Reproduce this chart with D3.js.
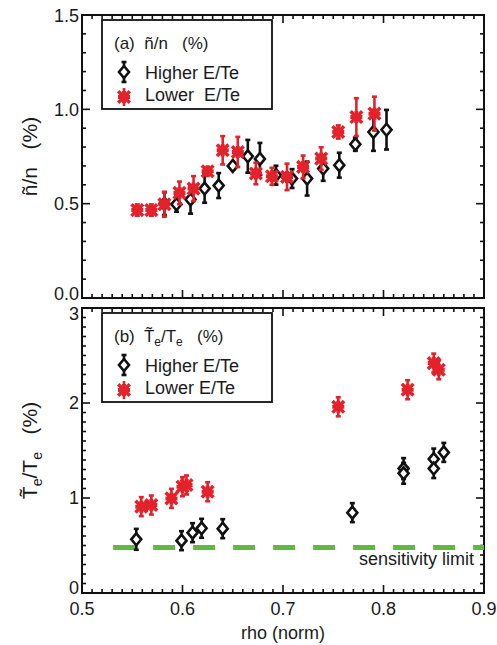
<!DOCTYPE html>
<html>
<head>
<meta charset="utf-8">
<script src="https://cdn.jsdelivr.net/npm/d3@7"></script>
<style>
  body { margin: 0; background: #fff; }
  text { font-family: "Liberation Sans", Arial, sans-serif; fill: #1a1a1a; }
</style>
</head>
<body>
<svg class="chart"></svg>
<script>
// panel (a): density fluctuation
const rhoHighA = [0.582, 0.594, 0.608, 0.622, 0.636, 0.650, 0.665, 0.677, 0.693, 0.709, 0.724, 0.740, 0.756, 0.772, 0.790, 0.803];
const valHighA = [0.50, 0.497, 0.522, 0.580, 0.596, 0.700, 0.751, 0.737, 0.651, 0.633, 0.633, 0.686, 0.704, 0.815, 0.880, 0.892];
const errHighA = [0.06, 0.04, 0.075, 0.075, 0.066, 0.02, 0.087, 0.085, 0.05, 0.05, 0.09, 0.065, 0.066, 0.035, 0.10, 0.105];
const rhoLowA = [0.555, 0.569, 0.582, 0.597, 0.611, 0.625, 0.640, 0.655, 0.673, 0.689, 0.704, 0.720, 0.738, 0.755, 0.773, 0.791];
const valLowA = [0.466, 0.466, 0.497, 0.557, 0.580, 0.672, 0.783, 0.774, 0.660, 0.645, 0.642, 0.695, 0.739, 0.880, 0.959, 0.977];
const errLowA = [0.03, 0.03, 0.066, 0.06, 0.066, 0.02, 0.075, 0.08, 0.057, 0.045, 0.07, 0.06, 0.06, 0.035, 0.10, 0.09];

// panel (b): electron temperature fluctuation
const rhoHighB = [0.554, 0.599, 0.610, 0.619, 0.640, 0.769, 0.820, 0.820, 0.850, 0.850, 0.860];
const valHighB = [0.565, 0.551, 0.635, 0.681, 0.677, 0.846, 1.31, 1.26, 1.41, 1.31, 1.48];
const errHighB = [0.11, 0.10, 0.10, 0.10, 0.10, 0.10, 0.11, 0.11, 0.11, 0.10, 0.10];
const rhoLowB = [0.559, 0.569, 0.589, 0.600, 0.604, 0.625, 0.755, 0.824, 0.850, 0.855];
const valLowB = [0.909, 0.926, 0.996, 1.119, 1.137, 1.066, 1.96, 2.14, 2.42, 2.35];
const errLowB = [0.10, 0.10, 0.10, 0.10, 0.10, 0.10, 0.10, 0.10, 0.10, 0.10];

const sensitivityLimit = 0.48;
const limitStart = 0.531;

const xTicks = [0.5, 0.6, 0.7, 0.8, 0.9];
const yTicksA = [0.0, 0.5, 1.0, 1.5];
const yTicksB = [0, 1, 2, 3];

const width = 497, height = 645;
const left = 82, right = 484;
const red = "#e3222b";

const svg = d3.select(".chart").attr("width", width).attr("height", height);

const x = d3.scaleLinear().domain([0.5, 0.9]).range([left, right]);

// labelShift: nudge for the lowest / highest y label so stacked panels don't collide
function drawPanel(top, bottom, y, yTicks, yFmt, yMinor, showX, labelShift) {
    const g = svg.append("g");
    const xMinor = d3.range(0.5, 0.9001, 0.01);
    const yMin = d3.range(y.domain()[0], y.domain()[1] + 1e-6, yMinor);
    const tk = g.append("g").attr("stroke", "#111").attr("stroke-width", 1.6);
    xMinor.forEach(v => {
        const major = xTicks.some(t => Math.abs(t - v) < 1e-6);
        const len = major ? 8 : 4;
        tk.append("line").attr("x1", x(v)).attr("x2", x(v)).attr("y1", bottom).attr("y2", bottom - len);
        tk.append("line").attr("x1", x(v)).attr("x2", x(v)).attr("y1", top).attr("y2", top + len);
    });
    yMin.forEach(v => {
        const major = yTicks.some(t => Math.abs(t - v) < 1e-6);
        const len = major ? 8 : 4;
        tk.append("line").attr("y1", y(v)).attr("y2", y(v)).attr("x1", left).attr("x2", left + len);
        tk.append("line").attr("y1", y(v)).attr("y2", y(v)).attr("x1", right).attr("x2", right - len);
    });
    g.append("rect").attr("x", left).attr("y", top).attr("width", right - left).attr("height", bottom - top)
        .attr("fill", "none").attr("stroke", "#111").attr("stroke-width", 2);

    const n = yTicks.length;
    g.selectAll(".ylab").data(yTicks).enter().append("text")
        .attr("x", left - 3)
        .attr("y", (d, i) => y(d) + (i === 0 ? labelShift[0] : i === n - 1 ? labelShift[1] : 0))
        .attr("dy", "0.36em")
        .attr("text-anchor", "end").attr("font-size", 18).text(yFmt);

    if (showX) {
        g.selectAll(".xlab").data(xTicks).enter().append("text")
            .attr("x", d => x(d)).attr("y", bottom + 22)
            .attr("text-anchor", "middle").attr("font-size", 18).text(d3.format(".1f"));
    }
    return g;
}

function errorBars(g, xs, ys, es, y, color, cap) {
    const eb = g.append("g").attr("stroke", color).attr("stroke-width", 2.6);
    xs.forEach((r, i) => {
        const lo = y(ys[i] - es[i]), hi = y(ys[i] + es[i]);
        eb.append("line").attr("x1", x(r)).attr("x2", x(r)).attr("y1", lo).attr("y2", hi);
        eb.append("line").attr("x1", x(r) - cap).attr("x2", x(r) + cap).attr("y1", lo).attr("y2", lo);
        eb.append("line").attr("x1", x(r) - cap).attr("x2", x(r) + cap).attr("y1", hi).attr("y2", hi);
    });
}

function diamond(g, cx, cy) {
    g.append("path")
        .attr("d", `M${cx},${cy - 6}L${cx + 5},${cy}L${cx},${cy + 6}L${cx - 5},${cy}Z`)
        .attr("fill", "#fff").attr("stroke", "#111").attr("stroke-width", 2.6);
}

function star(g, cx, cy) {
    const s = g.append("g").attr("transform", `translate(${cx},${cy})`);
    s.append("path").attr("d", d3.symbol(d3.symbolCross, 80)()).attr("fill", red);
    s.append("path").attr("d", d3.symbol(d3.symbolX, 90)()).attr("stroke", red).attr("stroke-width", 3.5).attr("fill", "none");
    s.append("rect").attr("x", -4).attr("y", -4).attr("width", 8).attr("height", 8).attr("fill", red);
}

function series(g, xs, ys, es, y, kind) {
    if (kind === "high") {
        errorBars(g, xs, ys, es, y, "#111", 2.5);
        xs.forEach((r, i) => diamond(g, x(r), y(ys[i])));
    } else {
        errorBars(g, xs, ys, es, y, red, 2.5);
        xs.forEach((r, i) => star(g, x(r), y(ys[i])));
    }
}

function legend(g, top, title, lowLabel) {
    g.append("rect").attr("x", 102).attr("y", top).attr("width", 170).attr("height", 89)
        .attr("fill", "#fff").attr("stroke", "#111").attr("stroke-width", 1.8);
    title(g.append("text").attr("x", 114).attr("y", top + 29).attr("font-size", 17));
    const mx = 124;
    const hy = top + 52, ly = top + 77;
    const lg = g.append("g");
    lg.append("line").attr("x1", mx).attr("x2", mx).attr("y1", hy - 10).attr("y2", hy + 10).attr("stroke", "#111").attr("stroke-width", 2.6);
    lg.append("line").attr("x1", mx - 2.5).attr("x2", mx + 2.5).attr("y1", hy - 10).attr("y2", hy - 10).attr("stroke", "#111").attr("stroke-width", 2.6);
    lg.append("line").attr("x1", mx - 2.5).attr("x2", mx + 2.5).attr("y1", hy + 10).attr("y2", hy + 10).attr("stroke", "#111").attr("stroke-width", 2.6);
    diamond(lg, mx, hy);
    lg.append("line").attr("x1", mx).attr("x2", mx).attr("y1", ly - 9).attr("y2", ly + 9).attr("stroke", red).attr("stroke-width", 2.6);
    star(lg, mx, ly);
    g.append("text").attr("x", 145).attr("y", hy + 7).attr("font-size", 18).text("Higher E/Te");
    g.append("text").attr("x", 145).attr("y", ly + 4).attr("font-size", 18).attr("xml:space", "preserve").text(lowLabel);
}

// ---------- panel (a)
const topA = 15, botA = 298;
const yA = d3.scaleLinear().domain([0, 1.5]).range([botA, topA]);
const gA = drawPanel(topA, botA, yA, yTicksA, d3.format(".1f"), 0.1, false, [-4, 1]);
series(gA, rhoHighA, valHighA, errHighA, yA, "high");
series(gA, rhoLowA, valLowA, errLowA, yA, "low");
legend(gA, 20, t => {
    t.attr("xml:space", "preserve");
    t.append("tspan").text("(a)  ");
    t.append("tspan").text("\u00f1/n   (%)");
}, "Lower  E/Te");

svg.append("text")
    .attr("transform", `translate(37,${(topA + botA) / 2}) rotate(-90)`)
    .attr("text-anchor", "middle").attr("font-size", 21).attr("xml:space", "preserve")
    .text("\u00f1/n   (%)");

// ---------- panel (b)
const topB = 308, botB = 593;
const yB = d3.scaleLinear().domain([0, 3]).range([botB, topB]);
const gB = drawPanel(topB, botB, yB, yTicksB, d3.format("d"), 0.1, true, [-5, 6]);

gB.append("line")
    .attr("x1", x(limitStart)).attr("x2", x(0.9))
    .attr("y1", yB(sensitivityLimit)).attr("y2", yB(sensitivityLimit))
    .attr("stroke", "#62b845").attr("stroke-width", 5).attr("stroke-dasharray", "22,18");
gB.append("text").attr("x", right - 10).attr("y", yB(sensitivityLimit) + 18)
    .attr("text-anchor", "end").attr("font-size", 18).attr("fill", "#333").text("sensitivity limit");

series(gB, rhoHighB, valHighB, errHighB, yB, "high");
series(gB, rhoLowB, valLowB, errLowB, yB, "low");
legend(gB, 313, t => {
    t.attr("xml:space", "preserve");
    t.append("tspan").text("(b)  T\u0303");
    t.append("tspan").attr("font-size", 12).attr("dy", 4).text("e");
    t.append("tspan").attr("dy", -4).text("/T");
    t.append("tspan").attr("font-size", 12).attr("dy", 4).text("e");
    t.append("tspan").attr("dy", -4).text("   (%)");
}, "Lower E/Te");

const ylB = svg.append("text")
    .attr("transform", `translate(37,${(topB + botB) / 2}) rotate(-90)`)
    .attr("text-anchor", "middle").attr("font-size", 21).attr("xml:space", "preserve");
ylB.append("tspan").text("T\u0303");
ylB.append("tspan").attr("font-size", 14).attr("dy", 5).text("e");
ylB.append("tspan").attr("dy", -5).text("/T");
ylB.append("tspan").attr("font-size", 14).attr("dy", 5).text("e");
ylB.append("tspan").attr("dy", -5).text("   (%)");

svg.append("text").attr("x", (left + right) / 2).attr("y", 639)
    .attr("text-anchor", "middle").attr("font-size", 18).text("rho (norm)");
</script>
</body>
</html>
